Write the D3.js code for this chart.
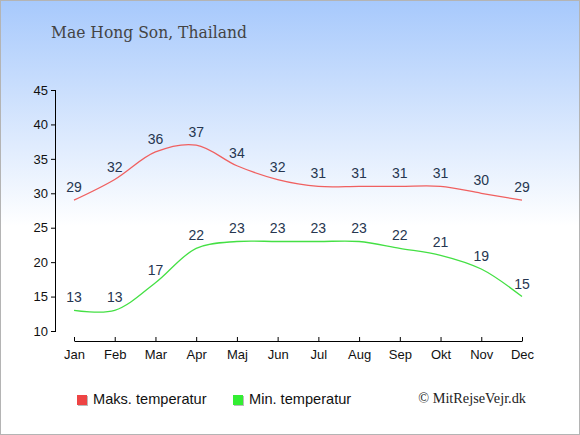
<!DOCTYPE html>
<html><head><meta charset="utf-8">
<script src="https://cdn.jsdelivr.net/npm/d3@7"></script>
<style>body{margin:0;padding:0;overflow:hidden}svg{display:block}</style>
</head><body>
<script>
const months = ["Jan","Feb","Mar","Apr","Maj","Jun","Jul","Aug","Sep","Okt","Nov","Dec"];
const maxTemp = [29,32,36,37,34,32,31,31,31,31,30,29];
const minTemp = [13,13,17,22,23,23,23,23,22,21,19,15];
const yTicks = [10,15,20,25,30,35,40,45];
const title = "Mae Hong Son, Thailand";
const legendLabels = ["Maks. temperatur","Min. temperatur"];
const copyright = "© MitRejseVejr.dk";

const W = 580, H = 435;
const svg = d3.select("body").append("svg").attr("width", W).attr("height", H);
const defs = svg.append("defs");
const g = defs.append("linearGradient").attr("id","bg").attr("x1",0).attr("y1",0).attr("x2",0).attr("y2",1);
g.append("stop").attr("offset","0%").attr("stop-color","#a7c9fc");
g.append("stop").attr("offset","52%").attr("stop-color","#ffffff");
g.append("stop").attr("offset","100%").attr("stop-color","#ffffff");
svg.append("rect").attr("x",0.5).attr("y",0.5).attr("width",W-1).attr("height",H-1)
  .attr("fill","url(#bg)").attr("stroke","#b4b4b4").attr("stroke-width",1);

svg.append("text").attr("x",51).attr("y",38).text(title)
  .attr("font-family","'DejaVu Serif', serif").attr("font-size",17.5)
  .attr("textLength",196).attr("lengthAdjust","spacingAndGlyphs").attr("fill","#444");

const x = d3.scalePoint().domain(months).range([74,522]);
const y = d3.scaleLinear().domain([10,45]).range([331,90]);

// y axis
const yAxis = svg.append("g").attr("transform","translate(55,0)")
  .call(d3.axisLeft(y).tickValues(yTicks).tickSize(4).tickSizeOuter(0).tickPadding(3));
yAxis.select(".domain").attr("stroke","#000");
yAxis.selectAll(".tick line").attr("x2",1).attr("x1",-4);
yAxis.selectAll("text").attr("font-family","'Liberation Sans', Arial, sans-serif").attr("font-size",13).attr("fill","#111");

// x axis
const xAxis = svg.append("g").attr("transform","translate(0,341)")
  .call(d3.axisBottom(x).tickSize(0).tickSizeOuter(0).tickPadding(9));
xAxis.select(".domain").attr("stroke","#000");
xAxis.selectAll(".tick line").attr("y1",-4).attr("y2",0).attr("stroke","#000");
xAxis.selectAll("text").attr("font-family","'Liberation Sans', Arial, sans-serif").attr("font-size",13).attr("fill","#111");

const line = d3.line().x((d,i)=>x(months[i])).y(d=>y(d)).curve(d3.curveCatmullRom.alpha(0.5));

const series = [
  {vals:maxTemp, color:"#f06060", legend:"#ee4444"},
  {vals:minTemp, color:"#44e044", legend:"#33ee33"}
];
series.forEach(s=>{
  svg.append("path").attr("d", line(s.vals)).attr("fill","none")
    .attr("stroke", s.color).attr("stroke-width",1.3);
  svg.append("g").selectAll("text").data(s.vals).join("text")
    .attr("x",(d,i)=>x(months[i])).attr("y",d=>y(d)-8)
    .attr("text-anchor","middle")
    .attr("font-family","'Liberation Sans', Arial, sans-serif").attr("font-size",14)
    .attr("fill","#263650").text(d=>d);
});

// legend
const lx = [77, 233];
series.forEach((s,i)=>{
  svg.append("rect").attr("x",lx[i]+1).attr("y",396).attr("width",10).attr("height",10).attr("fill","#bbb");
  svg.append("rect").attr("x",lx[i]).attr("y",395).attr("width",10).attr("height",10).attr("fill",s.legend);
  svg.append("text").attr("x",lx[i]+16).attr("y",404).text(legendLabels[i])
    .attr("font-family","'Liberation Sans', Arial, sans-serif").attr("font-size",14.6).attr("fill","#111");
});
svg.append("text").attr("x",526).attr("y",403).attr("text-anchor","end").text(copyright)
  .attr("font-family","'Liberation Serif', 'Times New Roman', serif").attr("font-size",14.3).attr("fill","#222");
</script>
</body></html>
